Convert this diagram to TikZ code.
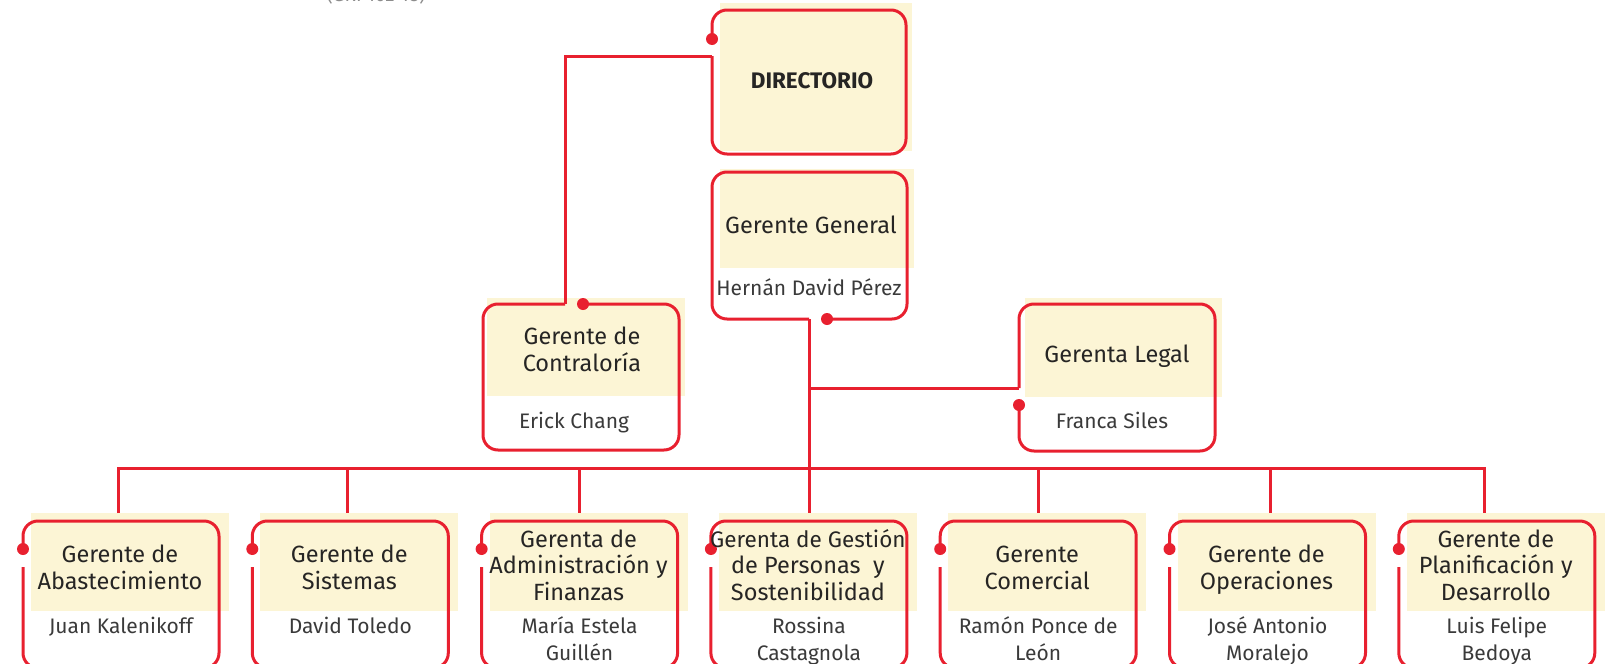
\documentclass[tikz,border=0pt]{standalone}
\usepackage{fontspec}
\setmainfont{Fira Sans}
\usetikzlibrary{calc}
\definecolor{orgred}{HTML}{E8202F}
\definecolor{creamfill}{HTML}{FCF5D5}
\definecolor{ink}{HTML}{262524}
\definecolor{nameink}{HTML}{3A3A3A}
\tikzset{
  conn/.style={draw=orgred, line width=3pt},
  outline/.style={conn, rounded corners=15pt},
  frame/.style={rectangle, inner sep=0pt, outer sep=0pt, draw=none},
  bg/.style={rectangle, fill=creamfill, inner sep=0pt, outer sep=0pt},
  title/.style={font=\fontsize{23.5}{26.5}\selectfont, text=ink, align=center, inner sep=0pt, anchor=base},
  person/.style={font=\fontsize{21}{27}\selectfont, text=nameink, align=center, inner sep=0pt, anchor=base},
  dotfill/.style={fill=orgred},
}
\begin{document}
\begin{tikzpicture}[x=1pt,y=-1pt]
\path[use as bounding box] (0,0) rectangle (1607,664);
\clip (0,0) rectangle (1607,664);

% clipped caption at the very top
\node[font=\fontsize{19}{22}\selectfont, text=black!45, anchor=base, inner sep=0pt] (gri) at (376,1.5) {(GRI 102-18)};

% ---------- DIRECTORIO ----------
\node[bg, minimum width=192, minimum height=148, anchor=north west] (dirY) at (720,3) {};
\node[frame, minimum width=194, minimum height=144, anchor=north west] (dir) at (712,10) {};
\draw[outline] ($(dir.north west)+(0,46)$) -- (dir.south west) -- (dir.south east) -- (dir.north east) -- (dir.north west) -- ($(dir.north west)+(0,29)$);
\fill[dotfill] ($(dir.north west)+(0,29)$) circle (6);
\node[title, font=\fontsize{22.5}{24}\selectfont\bfseries] (dirT) at (812,88) {DIRECTORIO};

% ---------- Gerente General ----------
\node[bg, minimum width=194, minimum height=99, anchor=north west] (ggY) at (720,169) {};
\node[frame, minimum width=195, minimum height=147, anchor=north west] (gg) at (712,172) {};
\coordinate (ggout) at ($(gg.south west)+(97,0)$);
\draw[outline] (ggout) -- (gg.south west) -- (gg.north west) -- (gg.north east) -- (gg.south east) -- ($(gg.south west)+(115,0)$);
\fill[dotfill] ($(gg.south west)+(115,0)$) circle (6);
\node[title] (ggT) at (811,233) {Gerente General};
\node[person] (ggN) at (809,295) {Hernán David Pérez};

% ---------- Contraloria ----------
\node[bg, minimum width=198, minimum height=98, anchor=north west] (conY) at (487,298) {};
\node[frame, minimum width=196, minimum height=146, anchor=north west] (con) at (483,304) {};
\coordinate (conin) at ($(con.north west)+(82,0)$);
\draw[outline] (conin) -- (con.north west) -- (con.south west) -- (con.south east) -- (con.north east) -- ($(con.north west)+(100,0)$);
\fill[dotfill] ($(con.north west)+(100,0)$) circle (6);
\node[title] (conT) at (582,371) {Gerente de\\Contraloría};
\node[person] (conN) at (574,428) {Erick Chang};

% ---------- Legal ----------
\node[bg, minimum width=197, minimum height=99, anchor=north west] (legY) at (1025,298) {};
\node[frame, minimum width=196, minimum height=147, anchor=north west] (leg) at (1019,304) {};
\coordinate (legin) at ($(leg.north west)+(0,84)$);
\draw[outline] (legin) -- (leg.north west) -- (leg.north east) -- (leg.south east) -- (leg.south west) -- ($(leg.north west)+(0,101)$);
\fill[dotfill] ($(leg.north west)+(0,101)$) circle (6);
\node[title] (legT) at (1117,362) {Gerenta Legal};
\node[person] (legN) at (1112,428) {Franca Siles};

% ---------- bottom row ----------
% \tb / \nb: baseline of the LAST line of the title / name
\foreach \i/\dx/\tb/\nb/\t/\n in {
  1/118/589/633/{Gerente de\\Abastecimiento}/{Juan Kalenikoff},
  2/347/589/633/{Gerente de\\Sistemas}/{David Toledo},
  3/579/600/660/{Gerenta de\\Administración y\\Finanzas}/{María Estela\\Guillén},
  4/809/600/660/{{\fontsize{22.5}{26.5}\selectfont Gerenta de Gestión}\\de Personas \ y\\Sostenibilidad}/{Rossina\\Castagnola},
  5/1038/589/660/{Gerente\\Comercial}/{Ramón Ponce de\\León},
  6/1270/589/660/{Gerente de\\Operaciones}/{José Antonio\\Moralejo},
  7/1484/600/660/{Gerente de\\Planificación y\\Desarrollo}/{Luis Felipe\\Bedoya}}
{
  \pgfmathsetmacro\L{23+229.3*(\i-1)}
  \node[bg, minimum width=198, minimum height=98, anchor=north west] (b\i y) at (\L+8,513) {};
  \node[frame, minimum width=196, minimum height=147, anchor=north west] (b\i) at (\L,521) {};
  \draw[outline] ($(b\i.north west)+(0,46)$) -- (b\i.south west) -- (b\i.south east) -- (b\i.north east) -- (b\i.north west) -- ($(b\i.north west)+(0,28)$);
  \fill[dotfill] ($(b\i.north west)+(0,28)$) circle (6);
  \node[title] (b\i t) at (\L+97,\tb) {\t};
  \node[person] (b\i n) at (\L+98,\nb) {\n};
  \coordinate (d\i) at (\dx,468);
}

% ---------- connectors ----------
\draw[conn] ($(dir.north west)+(0,46)$) -| (conin);
\draw[conn] (ggout) -- (ggout |- b4y.north);
\draw[conn] (legin -| ggout) -- (legin);
\draw[conn] (d1 |- b1y.north) -- (d1) -- (d7) -- (d7 |- b7y.north);
\foreach \i in {2,3,5,6}{
  \draw[conn] (d\i) -- (d\i |- b\i y.north);
}
\end{tikzpicture}
\end{document}
